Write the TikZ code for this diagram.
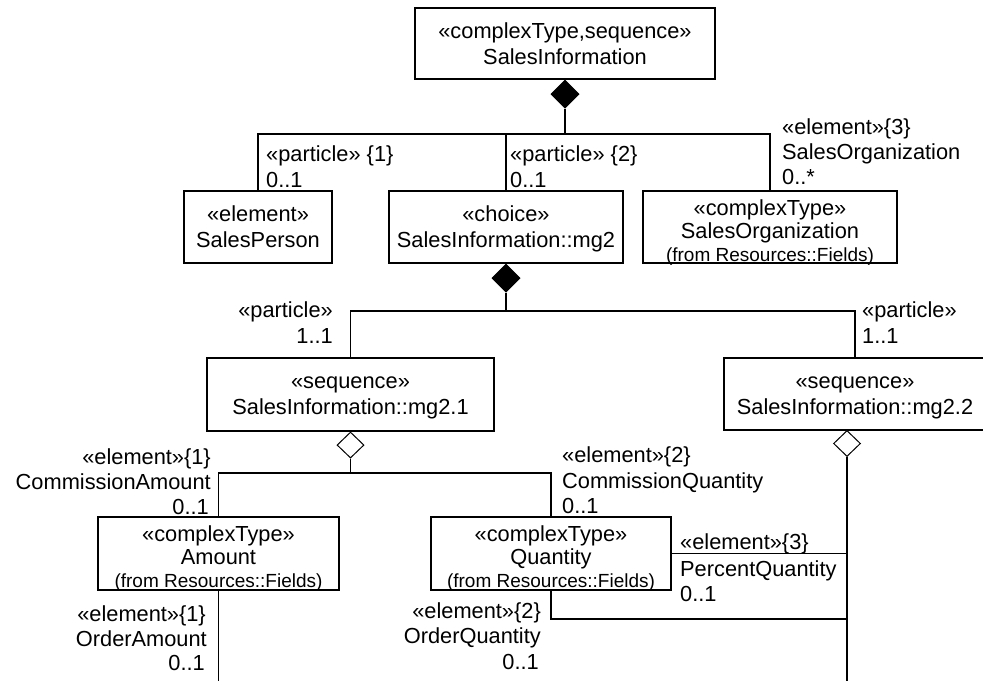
\documentclass[tikz,border=0pt]{standalone}
\usepackage{fontspec}
\setmainfont{Liberation Sans}
\usetikzlibrary{shapes.geometric}
\begin{document}
\begin{tikzpicture}[x=1pt,y=-1pt,
  umlbox/.style={draw, rectangle, line width=1.1pt, inner sep=0pt, fill=white},
  conn/.style={line width=1.1pt},
  fdiam/.style={diamond, draw, fill=black, line width=1pt, inner sep=0pt, minimum width=28pt, minimum height=28pt},
  hdiam/.style={diamond, draw, fill=white, line width=1pt, inner sep=0pt, minimum width=27pt, minimum height=26pt},
  txt/.style={inner sep=0pt, font=\fontsize{21.8pt}{26pt}\selectfont},
  smalltxt/.style={inner sep=0pt, font=\fontsize{19pt}{22pt}\selectfont},
  ct/.style={txt, anchor=base},
  lw/.style={txt, anchor=base west},
  le/.style={txt, anchor=base east}]
\clip (0,0) rectangle (983,681);
\fill[white] (0,0) rectangle (983,681);

% boxes
\node[umlbox, minimum width=300pt, minimum height=71pt] (top) at (565,43.5) {};
\node[umlbox, minimum width=148pt, minimum height=72pt] (sp) at (258,227) {};
\node[umlbox, minimum width=234pt, minimum height=72pt] (ch) at (506,227) {};
\node[umlbox, minimum width=254pt, minimum height=72pt] (so) at (770,227) {};
\node[umlbox, minimum width=287pt, minimum height=73pt] (s1) at (350.5,394.5) {};
\node[umlbox, minimum width=262pt, minimum height=72pt] (s2) at (855,394) {};
\node[umlbox, minimum width=241pt, minimum height=73pt] (am) at (218.5,553.5) {};
\node[umlbox, minimum width=240pt, minimum height=73pt] (qu) at (551,553.5) {};

% box texts
\node[ct] (topa) at (565,38) {«complexType,sequence»};
\node[ct] (topb) at (565,64) {SalesInformation};
\node[ct] (spa) at (258,221) {«element»};
\node[ct] (spb) at (258,247) {SalesPerson};
\node[ct] (cha) at (506,221) {«choice»};
\node[ct] (chb) at (506,247) {SalesInformation::mg2};
\node[ct] (soa) at (770,215) {«complexType»};
\node[ct] (sob) at (770,238) {SalesOrganization};
\node[smalltxt, anchor=base] (soc) at (770,261) {(from Resources::Fields)};
\node[ct] (s1a) at (350.5,388) {«sequence»};
\node[ct] (s1b) at (350.5,414) {SalesInformation::mg2.1};
\node[ct] (s2a) at (855,388) {«sequence»};
\node[ct] (s2b) at (855,414) {SalesInformation::mg2.2};
\node[ct] (ama) at (218.5,541) {«complexType»};
\node[ct] (amb) at (218.5,564) {Amount};
\node[smalltxt, anchor=base] (amc) at (218.5,587) {(from Resources::Fields)};
\node[ct] (qua) at (551,541) {«complexType»};
\node[ct] (qub) at (551,564) {Quantity};
\node[smalltxt, anchor=base] (quc) at (551,587) {(from Resources::Fields)};

% diamonds
\node[fdiam, anchor=north] (dtop) at (top.south) {};
\node[fdiam, anchor=north] (dch) at (ch.south) {};
\node[hdiam, anchor=north] (ds1) at (s1.south) {};
\node[hdiam, anchor=north] (ds2) at (847,430) {};

% junction coordinates
\coordinate (h1) at (565,134);
\coordinate (h2) at (506,311);
\coordinate (h3) at (350.5,473);
\coordinate (j619) at (847,619);
\coordinate (endq) at (847,681);
\coordinate (enda) at (218.5,681);

% connectors
\draw[conn] (dtop.south) -- (h1);
\draw[conn] (sp.north) |- (h1) -| (so.north);
\draw[conn] (ch.north) -- (ch.north |- h1);
\draw[conn] (dch.south) -- (h2);
\draw[conn] (s1.north) |- (h2) -| (s2.north);
\draw[conn] (ds1.south) -- (h3);
\draw[conn] (am.north) |- (h3) -| (qu.north);
\draw[conn] (ds2.south) -- (endq);
\draw[conn] (qu.east) -- (qu.east -| ds2.south);
\draw[conn] (qu.south) |- (j619);
\draw[conn] (am.south) -- (enda);

% labels
\node[lw] (l1a) at (266,161) {«particle» \{1\}};
\node[lw] (l1b) at (266,187) {0..1};
\node[lw] (l2a) at (510,161) {«particle» \{2\}};
\node[lw] (l2b) at (510,187) {0..1};
\node[lw] (l3a) at (782,134) {«element»\{3\}};
\node[lw] (l3b) at (782,159) {SalesOrganization};
\node[lw] (l3c) at (782,184) {0..*};
\node[le] (l4a) at (333,317) {«particle»};
\node[le] (l4b) at (333,343) {1..1};
\node[lw] (l5a) at (862,317) {«particle»};
\node[lw] (l5b) at (862,343) {1..1};
\node[le] (l6a) at (211,464) {«element»\{1\}};
\node[le] (l6b) at (211,489) {CommissionAmount};
\node[le] (l6c) at (209,514) {0..1};
\node[lw] (l7a) at (562,462) {«element»\{2\}};
\node[lw] (l7b) at (562,488) {CommissionQuantity};
\node[lw] (l7c) at (562,513) {0..1};
\node[lw] (l8a) at (680,549) {«element»\{3\}};
\node[lw] (l8b) at (680,576) {PercentQuantity};
\node[lw] (l8c) at (680,601) {0..1};
\node[le] (l9a) at (541,618) {«element»\{2\}};
\node[le] (l9b) at (541,643) {OrderQuantity};
\node[le] (l9c) at (539,669) {0..1};
\node[le] (l10a) at (206,621) {«element»\{1\}};
\node[le] (l10b) at (207,646) {OrderAmount};
\node[le] (l10c) at (205,670) {0..1};
\end{tikzpicture}
\end{document}
